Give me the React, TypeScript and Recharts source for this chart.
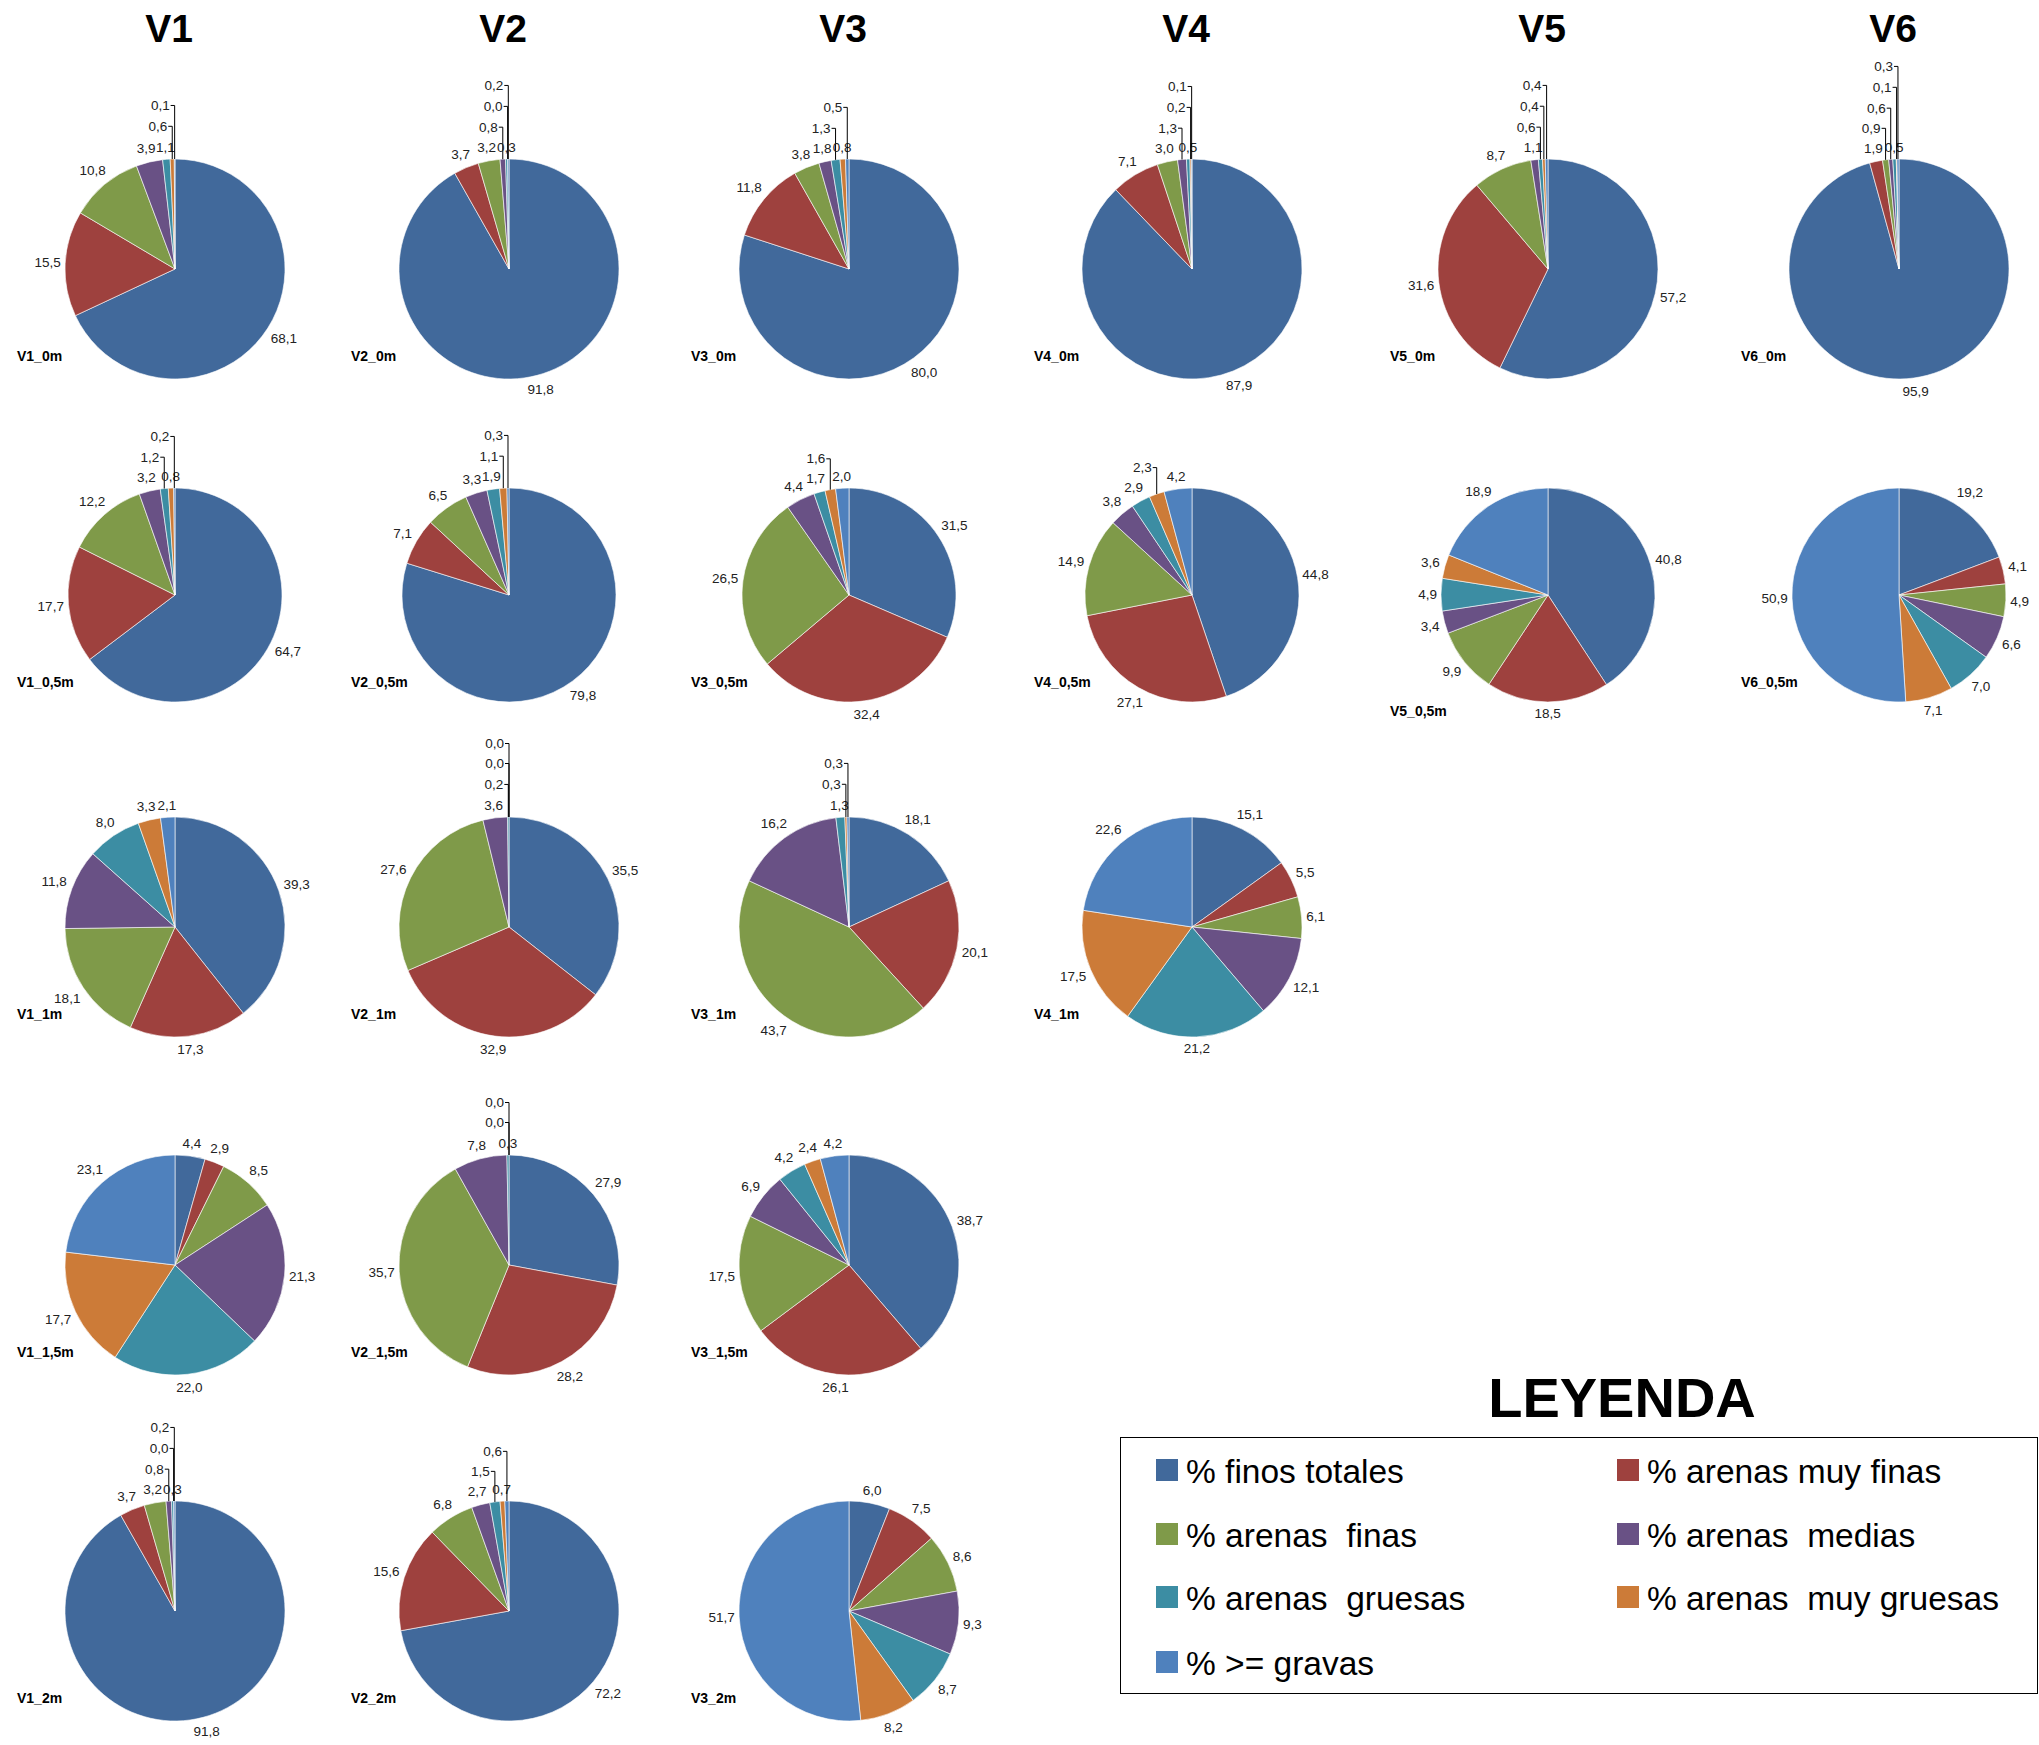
import React from "react";
import { PieChart, Pie, Cell, Legend } from "recharts";

const FONT = "'Liberation Sans', Arial, sans-serif";

// grain-size fractions, in the order the slices run clockwise from 12 o'clock
const fractions = [
  "% finos totales",
  "% arenas muy finas",
  "% arenas  finas",
  "% arenas  medias",
  "% arenas  gruesas",
  "% arenas  muy gruesas",
  "% >= gravas",
];
const fractionColors = [
  "#41699b",
  "#9e413e",
  "#7f9a49",
  "#695185",
  "#3c8da3",
  "#cc7b38",
  "#4f81bd",
];

const sites = ["V1", "V2", "V3", "V4", "V5", "V6"];
const depths = ["0m", "0,5m", "1m", "1,5m", "2m"];

// % of each fraction per sample
const v1_0m = [68.1, 15.5, 10.8, 3.9, 1.1, 0.6, 0.1];
const v2_0m = [91.8, 3.7, 3.2, 0.8, 0.3, 0.0, 0.2];
const v3_0m = [80.0, 11.8, 3.8, 1.8, 1.3, 0.8, 0.5];
const v4_0m = [87.9, 7.1, 3.0, 1.3, 0.5, 0.2, 0.1];
const v5_0m = [57.2, 31.6, 8.7, 1.1, 0.6, 0.4, 0.4];
const v6_0m = [95.9, 1.9, 0.9, 0.6, 0.5, 0.1, 0.3];

const v1_05m = [64.7, 17.7, 12.2, 3.2, 1.2, 0.8, 0.2];
const v2_05m = [79.8, 7.1, 6.5, 3.3, 1.9, 1.1, 0.3];
const v3_05m = [31.5, 32.4, 26.5, 4.4, 1.7, 1.6, 2.0];
const v4_05m = [44.8, 27.1, 14.9, 3.8, 2.9, 2.3, 4.2];
const v5_05m = [40.8, 18.5, 9.9, 3.4, 4.9, 3.6, 18.9];
const v6_05m = [19.2, 4.1, 4.9, 6.6, 7.0, 7.1, 50.9];

const v1_1m = [39.3, 17.3, 18.1, 11.8, 8.0, 3.3, 2.1];
const v2_1m = [35.5, 32.9, 27.6, 3.6, 0.2, 0.0, 0.0];
const v3_1m = [18.1, 20.1, 43.7, 16.2, 1.3, 0.3, 0.3];
const v4_1m = [15.1, 5.5, 6.1, 12.1, 21.2, 17.5, 22.6];

const v1_15m = [4.4, 2.9, 8.5, 21.3, 22.0, 17.7, 23.1];
const v2_15m = [27.9, 28.2, 35.7, 7.8, 0.3, 0.0, 0.0];
const v3_15m = [38.7, 26.1, 17.5, 6.9, 4.2, 2.4, 4.2];

const v1_2m = [91.8, 3.7, 3.2, 0.8, 0.3, 0.0, 0.2];
const v2_2m = [72.2, 15.6, 6.8, 2.7, 1.5, 0.7, 0.6];
const v3_2m = [6.0, 7.5, 8.6, 9.3, 8.7, 8.2, 51.7];

// grid layout
const colX = [175, 509, 849, 1192, 1548, 1899];
const rowY = [269, 595, 927, 1265, 1611];
const rowR = [110, 107, 110, 110, 110];

const samples = [
  { col: 0, row: 0, values: v1_0m },
  { col: 1, row: 0, values: v2_0m },
  { col: 2, row: 0, values: v3_0m },
  { col: 3, row: 0, values: v4_0m },
  { col: 4, row: 0, values: v5_0m },
  { col: 5, row: 0, values: v6_0m },
  { col: 0, row: 1, values: v1_05m },
  { col: 1, row: 1, values: v2_05m },
  { col: 2, row: 1, values: v3_05m },
  { col: 3, row: 1, values: v4_05m },
  { col: 4, row: 1, values: v5_05m, nameDy: 116 },
  { col: 5, row: 1, values: v6_05m },
  { col: 0, row: 2, values: v1_1m },
  { col: 1, row: 2, values: v2_1m },
  { col: 2, row: 2, values: v3_1m },
  { col: 3, row: 2, values: v4_1m },
  { col: 0, row: 3, values: v1_15m },
  { col: 1, row: 3, values: v2_15m },
  { col: 2, row: 3, values: v3_15m },
  { col: 0, row: 4, values: v1_2m },
  { col: 1, row: 4, values: v2_2m },
  { col: 2, row: 4, values: v3_2m },
];

const LABEL_SIZE = 13.5;

type Spot = {
  text: string;
  lx: number;
  ly: number;
  ex: number;
  ey: number;
  tx: number;
  moved: boolean;
};

// outside-end labels; small slices that collide get stacked with a leader line
function layoutLabels(values: number[], r: number): Spot[] {
  const total = values.reduce((a, b) => a + b, 0);
  const boxes: { x0: number; x1: number; y0: number; y1: number }[] = [];
  const h = 20;
  let cum = 0;
  return values.map((v) => {
    const a = ((cum + v / 2) / total) * 2 * Math.PI;
    cum += v;
    const dx = Math.sin(a);
    const dy = -Math.cos(a);
    const text = v.toFixed(1).replace(".", ",");
    const w = (text.length - 1) * 7.5 + 3.75;
    const d = r + 4 + (w / 2) * Math.abs(dx) + 7.5 * Math.abs(dy);
    let lx = dx * d;
    let ly = dy * d;
    const ex = dx * r;
    const ey = dy * r;
    const hit = (x: number, y: number) =>
      boxes.some(
        (b) => x - w / 2 < b.x1 && x + w / 2 > b.x0 && y - h / 2 < b.y1 && y + h / 2 > b.y0
      );
    let moved = false;
    let tx = ex;
    if (hit(lx, ly)) {
      moved = true;
      const side = dx < 0 ? -1 : 1;
      lx = ex + side * (5 + w / 2);
      tx = ex + side * 4;
      const step = dy < 0.5 ? -1 : 1;
      while (hit(lx, ly)) ly += step;
    }
    boxes.push({ x0: lx - w / 2, x1: lx + w / 2, y0: ly - h / 2, y1: ly + h / 2 });
    return { text, lx, ly, ex, ey, tx, moved };
  });
}

const layouts = samples.map((s) => layoutLabels(s.values, rowR[s.row]));

function renderLabel(props: any, spots: Spot[]) {
  const spot = spots[props.index];
  if (!spot) return null;
  const { cx, cy } = props;
  return (
    <g>
      {spot.moved && (
        <polyline
          points={`${cx + spot.ex},${cy + spot.ey} ${cx + spot.ex},${cy + spot.ly} ${cx + spot.tx},${cy + spot.ly}`}
          fill="none"
          stroke="#000"
          strokeWidth={1}
        />
      )}
      <text
        x={cx + spot.lx}
        y={cy + spot.ly}
        textAnchor="middle"
        dominantBaseline="central"
        fontSize={LABEL_SIZE}
        fontFamily={FONT}
        fill="#222"
      >
        {spot.text}
      </text>
    </g>
  );
}

const legendRows = [32, 96, 159, 224];

const renderLegend = () => (
  <div style={{ position: "relative", width: 919, height: 335, fontFamily: FONT }}>
    <div
      style={{
        position: "absolute",
        left: 302,
        width: 400,
        top: 10,
        textAlign: "center",
        fontSize: 56,
        lineHeight: "56px",
        fontWeight: "bold",
        color: "#000",
      }}
    >
      LEYENDA
    </div>
    <div
      style={{
        position: "absolute",
        left: 0,
        top: 77,
        width: 918,
        height: 257,
        border: "1.5px solid #000",
        boxSizing: "border-box",
      }}
    >
      {fractions.map((f, i) => {
        const c = legendRows[Math.floor(i / 2)];
        const left = i % 2 === 0 ? 35 : 496;
        return (
          <React.Fragment key={f}>
            <div
              style={{
                position: "absolute",
                left,
                top: c - 11,
                width: 22,
                height: 22,
                background: fractionColors[i],
              }}
            />
            <div
              style={{
                position: "absolute",
                left: left + 30,
                top: c - 15,
                fontSize: 33.5,
                lineHeight: "33px",
                whiteSpace: "pre",
                color: "#000",
              }}
            >
              {f}
            </div>
          </React.Fragment>
        );
      })}
    </div>
  </div>
);

export default function App() {
  return (
    <div
      style={{
        position: "relative",
        width: 2039,
        height: 1745,
        background: "#fff",
        fontFamily: FONT,
      }}
    >
      <style>{`body{margin:0}`}</style>
      <PieChart width={2039} height={1745} margin={{ top: 0, right: 0, bottom: 0, left: 0 }}>
        {samples.map((s, k) => (
          <Pie
            key={k}
            data={s.values.map((v, i) => ({ name: fractions[i], value: v }))}
            dataKey="value"
            cx={colX[s.col]}
            cy={rowY[s.row]}
            outerRadius={rowR[s.row]}
            startAngle={90}
            endAngle={-270}
            stroke="#ffffff"
            strokeWidth={0.6}
            isAnimationActive={false}
            labelLine={false}
            label={(p: any) => renderLabel(p, layouts[k])}
          >
            {s.values.map((_, i) => (
              <Cell key={i} fill={fractionColors[i]} />
            ))}
          </Pie>
        ))}
        <Legend
          verticalAlign="bottom"
          content={renderLegend}
          wrapperStyle={{
            position: "absolute",
            left: 1120,
            top: 1360,
            bottom: "auto",
            width: 919,
            height: 335,
          }}
        />
      </PieChart>
      {sites.map((s, i) => (
        <div
          key={s}
          style={{
            position: "absolute",
            left: colX[i] - 6 - 60,
            width: 120,
            top: 9,
            textAlign: "center",
            fontSize: 39,
            lineHeight: "40px",
            fontWeight: "bold",
            color: "#000",
          }}
        >
          {s}
        </div>
      ))}
      {samples.map((s, k) => (
        <div
          key={k}
          style={{
            position: "absolute",
            left: colX[s.col] - 158,
            top: rowY[s.row] + (s.nameDy ?? 87) - 9,
            fontSize: 14,
            lineHeight: "18px",
            fontWeight: "bold",
            color: "#000",
            whiteSpace: "nowrap",
          }}
        >
          {`${sites[s.col]}_${depths[s.row]}`}
        </div>
      ))}
    </div>
  );
}
